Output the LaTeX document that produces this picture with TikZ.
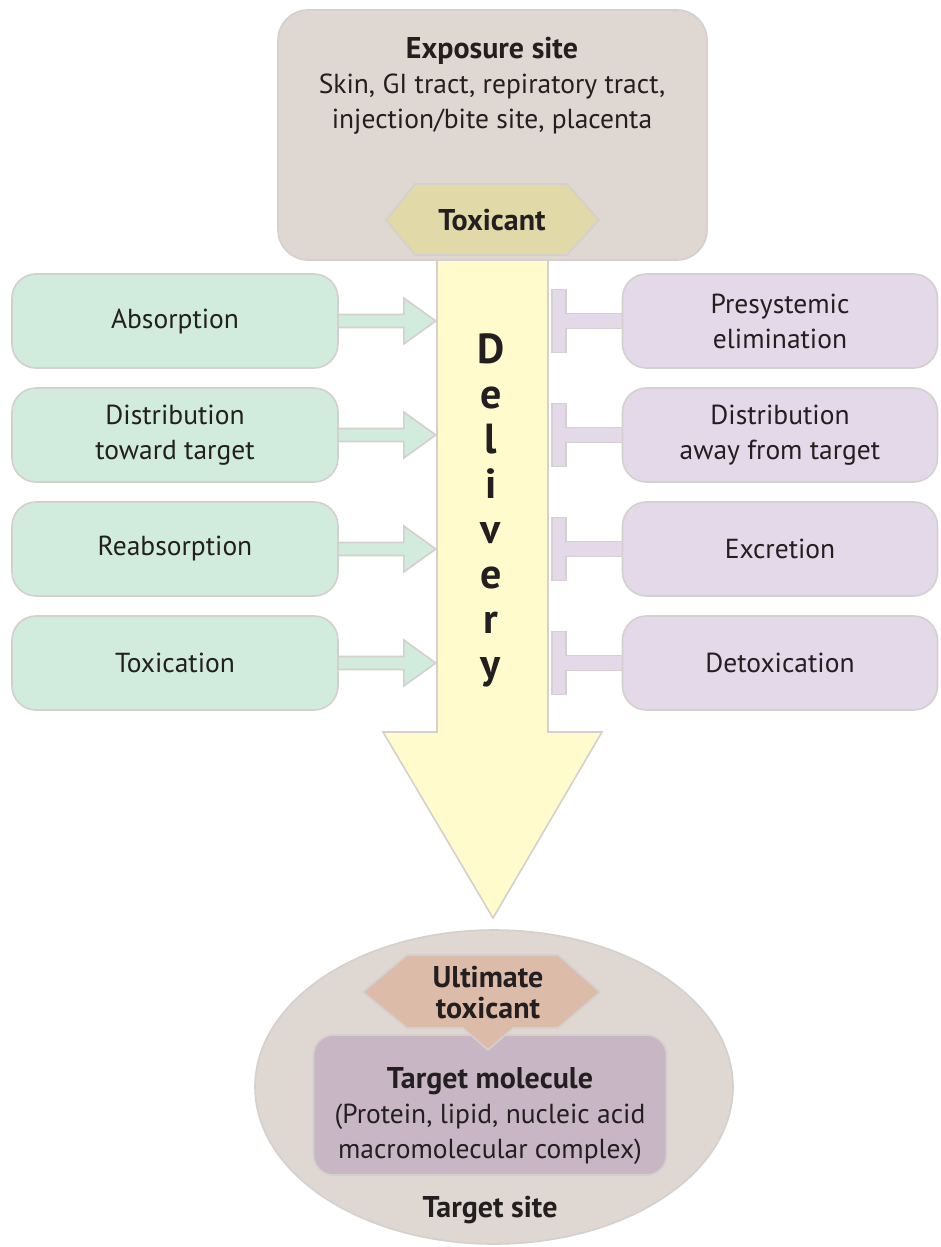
\documentclass[tikz,border=0pt]{standalone}
\usepackage{fontspec}
\setmainfont{PT Sans}
\usetikzlibrary{calc,backgrounds}
\definecolor{edgegray}{HTML}{D3D0CD}
\definecolor{sitefill}{HTML}{DFD7D1}
\definecolor{toxfill}{HTML}{E1DAA8}
\definecolor{delfill}{HTML}{FFFBCD}
\definecolor{greenfill}{HTML}{D1EBDC}
\definecolor{purplefill}{HTML}{E4D9E8}
\definecolor{ultfill}{HTML}{DCBCA9}
\definecolor{molfill}{HTML}{C9B6C5}
\definecolor{inkc}{HTML}{231F20}
\newcommand\boldtxt[1]{{\fontsize{30}{30}\selectfont\bfseries #1}}
\tikzset{
  every node/.style={text=inkc, font=\fontsize{27.5}{35}\selectfont},
  shapeline/.style={draw=edgegray, line width=1.6pt},
  gbox/.style={shapeline, fill=greenfill, rounded corners=24pt, minimum width=326pt,
    minimum height=94pt, align=center},
  pbox/.style={shapeline, fill=purplefill, rounded corners=24pt, minimum width=315pt,
    minimum height=94pt, align=center},
  garrow/.style={shapeline, fill=greenfill, line join=miter},
  tbar/.style={shapeline, fill=purplefill},
  letter/.style={anchor=base, font=\fontsize{42}{42}\selectfont\bfseries},
  boldlabel/.style={align=center, font=\fontsize{30}{31}\selectfont\bfseries},
}
\begin{document}
\begin{tikzpicture}[x=1pt,y=-1pt]
\useasboundingbox (0,0) rectangle (940,1247);

% delivery arrow
\draw[shapeline, fill=delfill, line join=miter] (437,250) -- (437,732) -- (383,732) -- (493,918)
  -- (602,732) -- (548,732) -- (548,250);
\foreach \l [count=\i] in {D,e,l,i,v,e,r,y}
  \node[letter] (del\i) at (491,{318+45*\i}) {\l};

% exposure site
\draw[shapeline, fill=sitefill, rounded corners=30pt] (278,10) rectangle (707,260);
\node[align=center] (expo) at (492,86) {\boldtxt{Exposure site}\\Skin, GI tract, repiratory tract,\\injection/bite site, placenta};
\draw[shapeline, fill=toxfill] (386,220) -- (415,184) -- (567,184) -- (599,220) -- (567,255)
  -- (415,255) -- cycle;
\node[boldlabel] (tox) at (492,220) {Toxicant};

% left and right boxes
\node[gbox] (absorb) at (175,321) {Absorption};
\node[gbox] (distto) at (175,435) {Distribution\\toward target};
\node[gbox] (reabs) at (175,549) {Reabsorption};
\node[gbox] (toxic) at (175,663) {Toxication};
\node[pbox] (presys) at (780,321) {Presystemic\\elimination};
\node[pbox] (distaway) at (780,435) {Distribution\\away from target};
\node[pbox] (excr) at (780,549) {Excretion};
\node[pbox] (detox) at (780,663) {Detoxication};

\begin{scope}[on background layer]
\foreach \b in {absorb,distto,reabs,toxic}
  \draw[garrow] ($(\b.east)+(-4,-6.5)$) -- ++(69,0) -- ++(0,-16.5) -- ++(32,23)
    -- ++(-32,23) -- ++(0,-16.5) -- ++(-69,0);
\foreach \b in {presys,distaway,excr,detox}
  \draw[tbar] ($(\b.west)+(4,-7.5)$) -- ++(-60,0) -- ++(0,-24) -- ++(-14,0) -- ++(0,63)
    -- ++(14,0) -- ++(0,-24) -- ++(60,0);
\end{scope}

% target site
\draw[shapeline, fill=sitefill] (494,1087) ellipse [x radius=239, y radius=157];
\node[shapeline, fill=molfill, rounded corners=20pt, minimum width=353pt, minimum height=140pt]
  (molbox) at (490,1105) {};
\draw[shapeline, fill=ultfill] (363,992) -- (407,955) -- (558,955) -- (600,992) -- (558,1028)
  -- (513,1028) -- (488,1050) -- (463,1028) -- (407,1028) -- cycle;
\node[boldlabel] (ult) at (488,993) {Ultimate\\toxicant};
\node[align=center] (mol) at (490,1116) {\boldtxt{Target molecule}\\(Protein, lipid, nucleic acid\\macromolecular complex)};
\node[boldlabel] (site) at (490,1210) {Target site};
\end{tikzpicture}
\end{document}
